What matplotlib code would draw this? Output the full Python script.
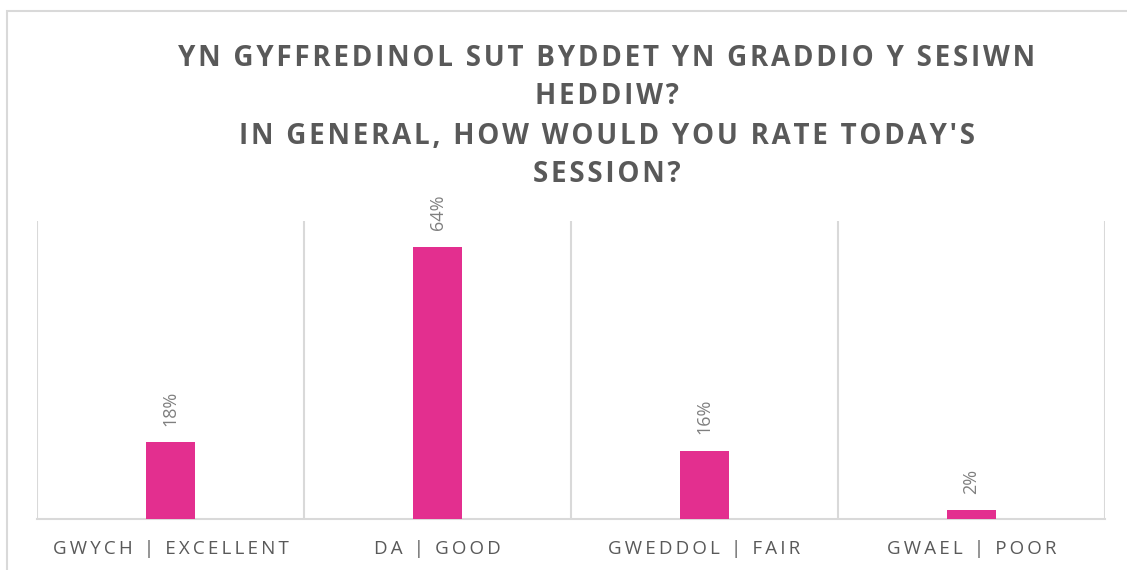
import matplotlib.pyplot as plt
from matplotlib.patches import Rectangle

categories = ['GWYCH | EXCELLENT', 'DA | GOOD', 'GWEDDOL | FAIR', 'GWAEL | POOR']
values = [18, 64, 16, 2]
title_lines = ['YN GYFFREDINOL SUT BYDDET YN GRADDIO Y SESIWN', 'HEDDIW?',
               'IN GENERAL, HOW WOULD YOU RATE TODAY\'S', 'SESSION?']

bar_color = '#e32f8f'
grid_color = '#d9d9d9'
fam = ['Open Sans', 'DejaVu Sans']


def spaced(s, sep='\u2009'):
    # fake letter spacing like the office chart
    return sep.join(s)


fig = plt.figure(figsize=(11.27, 5.70), dpi=100)
fig.patches.append(Rectangle((7 / 1127, -0.05), 1.1, 1 - 11 / 570 + 0.05,
                             transform=fig.transFigure, fill=False,
                             edgecolor=grid_color, linewidth=1.5))

ax = fig.add_axes([37 / 1127, 1 - 519 / 570, (1105 - 37) / 1127, (519 - 221) / 570])
x = list(range(len(categories)))
ax.bar(x, values, width=0.18, color=bar_color, zorder=3)
ax.set_xlim(-0.5, len(categories) - 0.5)
ax.set_ylim(0, 70)
ax.set_yticks([])
ax.set_xticks(x)
ax.set_xticklabels([spaced(c) for c in categories], family=fam, fontsize=13.5, color='#595959')
ax.tick_params(axis='x', length=0, pad=15)
for b in [i - 0.5 for i in range(len(categories) + 1)]:
    ax.axvline(b, color=grid_color, linewidth=1.5, zorder=1)
for s in ['top', 'left', 'right']:
    ax.spines[s].set_visible(False)
ax.spines['bottom'].set_color(grid_color)
ax.spines['bottom'].set_linewidth(1.5)

for xi, v in zip(x, values):
    ax.annotate(f'{v}%', (xi, v), xytext=(0, 12), textcoords='offset points',
                rotation=90, ha='center', va='bottom', fontsize=13,
                color='#7f7f7f', family=fam)

ys = [58, 97, 136, 174]
for line, y in zip(title_lines, ys):
    fig.text(607 / 1127, 1 - y / 570, spaced(line, '\u200a'), ha='center', va='center',
             fontsize=20, fontweight='bold', color='#595959', family=fam)

fig.savefig('out.png', dpi=100)
